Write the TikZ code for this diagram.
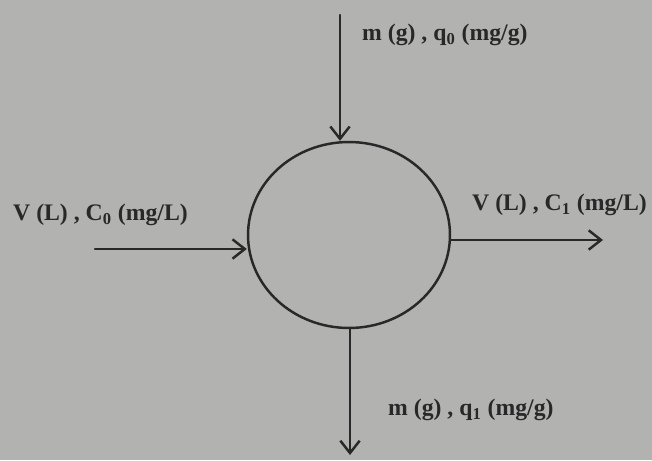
\documentclass[tikz,border=0pt]{standalone}
\usepackage{fontspec}
\setmainfont{Liberation Serif}
\usetikzlibrary{arrows.meta,shapes.geometric}
\definecolor{paper}{RGB}{178,178,176}
\definecolor{ink}{RGB}{40,40,40}

\begin{document}
\begin{tikzpicture}[
			x=0.02cm, y=-0.02cm,
			every node/.style={font=\fontsize{13.5}{16}\selectfont\bfseries, text=ink},
			flow/.style={-{Straight Barb[length=7pt,width=11pt]}, line width=1.4pt, draw=ink},
			line cap=round,
			line join=round
			]
			% paper
			\fill[paper] (0,0) rectangle (652,460);
			\useasboundingbox (0,0) rectangle (652,460);
			
			% vessel
			\node[draw=ink, line width=1.4pt, ellipse, minimum width=4.04cm, minimum height=3.72cm, inner sep=0pt] (vessel) at (349,235) {};
			
			% free ends of the streams
			\coordinate (solidin) at (340,15);
			\coordinate (liquidin) at (95,249);
			\coordinate (liquidout) at (603,240);
			\coordinate (solidout) at (350,455);
			
			\draw[flow] (solidin) -- (vessel.north -| solidin);
			\draw[flow] (liquidin) -- (vessel.west |- liquidin);
			\draw[flow] (vessel.east |- liquidout) -- (liquidout);
			\draw[flow] (vessel.south -| solidout) -- (solidout);
			
			% labels
			\node[anchor=west] (solidinlabel) at (356,35) {m (g) , q\textsubscript{0} (mg/g)};
			\node[anchor=west] (liquidinlabel) at (7,215) {V (L) , C\textsubscript{0} (mg/L)};
			\node[anchor=west] (liquidoutlabel) at (466,205) {V (L) , C\textsubscript{1} (mg/L)};
			\node[anchor=west] (solidoutlabel) at (382,410) {m (g) , q\textsubscript{1} (mg/g)};
		\end{tikzpicture}
\end{document}
